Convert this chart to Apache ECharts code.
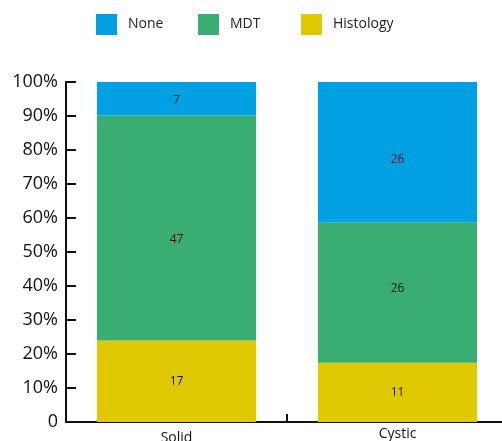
<!DOCTYPE html>
<html>
<head>
<meta charset="utf-8">
<script src="https://cdn.jsdelivr.net/npm/echarts@6/dist/echarts.min.js"></script>
<style>
  html, body { margin: 0; padding: 0; background: #fff; }
  #chart { width: 502px; height: 441px; }
</style>
</head>
<body>
<div id="chart"></div>
<script>
// Counts per group; bars are stacked as share of each group's total
const categories = ['Solid', 'Cystic'];
const histology = [17, 11];
const mdt = [47, 26];
const none = [7, 26];
const yTicks = ['0', '10%', '20%', '30%', '40%', '50%', '60%', '70%', '80%', '90%', '100%'];

const totals = categories.map((_, i) => histology[i] + mdt[i] + none[i]);

const font = '"Open Sans", "Noto Sans", sans-serif';

// vertical nudge of each value label, per category
const labelShift = {
  Histology: [0, 0],
  MDT: [12, -4],
  None: [2, 7]
};

function share(name, arr) {
  return arr.map((v, i) => ({
    value: v / totals[i] * 100,
    count: v,
    label: { offset: [0, labelShift[name][i]] }
  }));
}

const labelStyle = {
  show: true,
  position: 'inside',
  color: '#111',
  fontSize: 12,
  fontFamily: font,
  formatter: p => p.data.count
};

function legendAt(left, name) {
  return {
    top: 14,
    left: left,
    padding: 0,
    itemWidth: 21,
    itemHeight: 21,
    icon: 'rect',
    textStyle: { fontSize: 14, color: '#222', fontFamily: font, padding: [0, 0, 0, 6] },
    data: [name]
  };
}

const chart = echarts.init(document.getElementById('chart'));
chart.setOption({
  animation: false,
  textStyle: { fontFamily: font },
  legend: [legendAt(96, 'None'), legendAt(198, 'MDT'), legendAt(301, 'Histology')],
  grid: { left: 66, width: 442, top: 82, bottom: 19, containLabel: false, outerBoundsMode: 'none' },
  xAxis: {
    type: 'category',
    data: categories,
    axisLine: { lineStyle: { color: '#111', width: 2 } },
    axisTick: { show: true, inside: true, length: 8, lineStyle: { color: '#111', width: 2 } },
    axisLabel: {
      fontSize: 14,
      color: '#111',
      margin: 5,
      fontFamily: font,
      formatter: v => v === 'Solid' ? '{low|' + v + '}' : v,
      rich: { low: { fontSize: 14, color: '#111', fontFamily: font, padding: [4, 0, 0, 0] } }
    }
  },
  yAxis: {
    type: 'value',
    min: 0,
    max: 100,
    interval: 10,
    splitLine: { show: false },
    axisLine: { show: true, lineStyle: { color: '#111', width: 2 } },
    axisTick: { show: true, inside: true, length: 10, lineStyle: { color: '#111', width: 2 } },
    axisLabel: {
      fontSize: 18,
      color: '#111',
      margin: 8,
      fontFamily: font,
      formatter: v => yTicks[Math.round(v / 10)]
    }
  },
  series: [
    {
      name: 'Histology', type: 'bar', stack: 'all', barWidth: '72%',
      itemStyle: { color: '#E0C900' },
      label: labelStyle,
      data: share('Histology', histology)
    },
    {
      name: 'MDT', type: 'bar', stack: 'all', barWidth: '72%',
      itemStyle: { color: '#3AAE72' },
      label: labelStyle,
      data: share('MDT', mdt)
    },
    {
      name: 'None', type: 'bar', stack: 'all', barWidth: '72%',
      itemStyle: { color: '#00A0E3' },
      label: labelStyle,
      data: share('None', none)
    }
  ]
});
</script>
</body>
</html>
